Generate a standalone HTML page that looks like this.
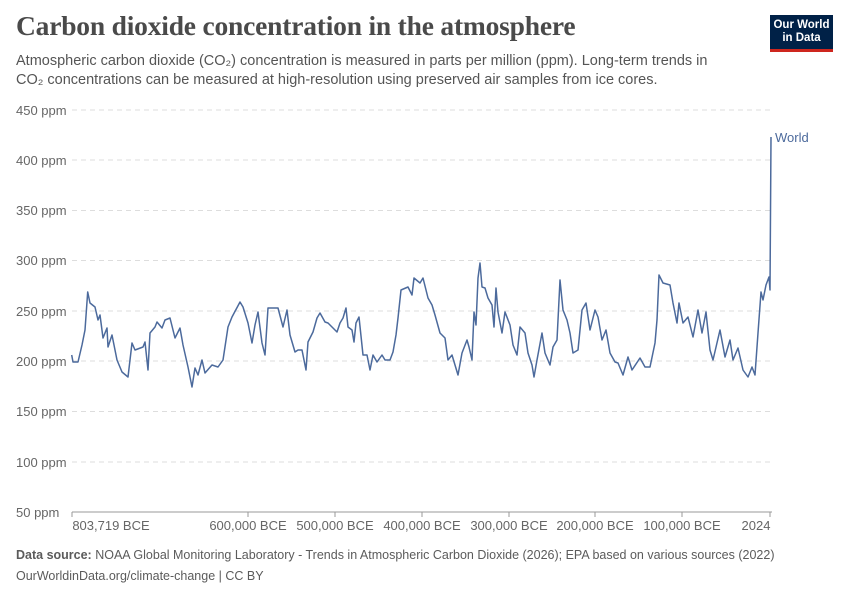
<!DOCTYPE html>
<html><head><meta charset="utf-8"><style>
body{margin:0;width:850px;height:600px;background:#fff;position:relative;overflow:hidden;font-family:"Liberation Sans",sans-serif;}
.t{position:absolute;left:16px;top:10px;font-family:"Liberation Serif",serif;font-size:27.5px;color:#4a4a4a;font-weight:bold;letter-spacing:-0.2px}
.s{position:absolute;left:16px;top:52px;font-size:14.5px;line-height:19px;color:#555;width:712px}
.logo{position:absolute;left:770px;top:15px;width:63px;height:37px;background:#002147;border-bottom:3px solid #ce261e;color:#fff;font-size:11.5px;line-height:13px;text-align:center;padding-top:4px;box-sizing:border-box;font-weight:bold}
.f{position:absolute;left:16px;font-size:12.5px;color:#5b5b5b}
</style></head><body>
<div class="t">Carbon dioxide concentration in the atmosphere</div>
<div class="s">Atmospheric carbon dioxide (CO₂) concentration is measured in parts per million (ppm). Long-term trends in CO₂ concentrations can be measured at high-resolution using preserved air samples from ice cores.</div>
<div class="logo">Our World<br>in Data</div>
<svg width="850" height="600" style="position:absolute;left:0;top:0" font-family="Liberation Sans, sans-serif">
<g stroke="#ddd" stroke-dasharray="5,4" stroke-width="1">
<line x1="72" x2="772" y1="110" y2="110"/><line x1="72" x2="772" y1="160" y2="160"/><line x1="72" x2="772" y1="210.5" y2="210.5"/><line x1="72" x2="772" y1="260.5" y2="260.5"/><line x1="72" x2="772" y1="311" y2="311"/><line x1="72" x2="772" y1="361" y2="361"/><line x1="72" x2="772" y1="411.5" y2="411.5"/><line x1="72" x2="772" y1="462" y2="462"/>
</g>
<line x1="72" x2="772" y1="512" y2="512" stroke="#999"/>
<g stroke="#999"><line x1="72" x2="72" y1="512" y2="517"/><line x1="248" x2="248" y1="512" y2="517"/><line x1="335" x2="335" y1="512" y2="517"/><line x1="422" x2="422" y1="512" y2="517"/><line x1="509" x2="509" y1="512" y2="517"/><line x1="595" x2="595" y1="512" y2="517"/><line x1="682" x2="682" y1="512" y2="517"/><line x1="770" x2="770" y1="512" y2="517"/></g>
<g fill="#666" font-size="13">
<text x="16" y="115">450 ppm</text><text x="16" y="165">400 ppm</text><text x="16" y="215">350 ppm</text><text x="16" y="265">300 ppm</text><text x="16" y="316">250 ppm</text><text x="16" y="366">200 ppm</text><text x="16" y="416">150 ppm</text><text x="16" y="467">100 ppm</text><text x="16" y="517">50 ppm</text>
<g text-anchor="middle"><text x="111" y="530">803,719 BCE</text><text x="248" y="530">600,000 BCE</text><text x="335" y="530">500,000 BCE</text><text x="422" y="530">400,000 BCE</text><text x="509" y="530">300,000 BCE</text><text x="595" y="530">200,000 BCE</text><text x="682" y="530">100,000 BCE</text><text x="756" y="530">2024</text></g>
</g>
<polyline fill="none" stroke="#4c6a9c" stroke-width="1.5" stroke-linejoin="round" points="71.7,355 73,362 78,362 82,345 85,330 87.7,292 90,303 95,307 98,320 100,315 103,338 107,328 108,347 112,335 117,360 122,372 128,377 132,343 135,350 143,347 145,342 148,370 150,333 155,327 157,322 162,328 165,320 170,318 175,338 180,328 183,345 188,367 192,387 195,368 198,375 202,360 205,373 212,365 218,367 223,360 228,327 232,317 240,302 243,307 248,323 252,343 255,325 258,312 262,343 265,355 268,308 278,308 283,327 287,310 290,335 295,352 298,350 302,350 306,370 308,342 313,332 317,318 320,313 325,322 328,323 337,332 340,323 343,318 346,308 348,327 352,330 354,342 356,323 359,317 363,355 367,355 370,370 373,355 377,362 382,355 385,360 390,360 393,352 396,335 398,318 401,290 408,287 412,295 414,278 420,283 423,278 428,298 432,305 435,315 440,333 445,338 448,360 452,355 455,365 458,375 462,353 467,340 469,347 472,360 474,312 476,325 478,278 480,263 482,287 485,288 488,298 492,305 494,327 496,288 498,312 502,333 505,312 510,325 513,345 517,355 520,327 525,333 528,353 532,365 534,377 537,360 542,333 545,353 550,365 553,347 557,340 560,280 563,310 567,320 570,333 573,353 578,350 582,310 586,303 590,330 595,310 598,317 602,340 606,330 610,353 615,362 618,363 623,375 628,357 632,370 640,358 645,367 650,367 655,343 657,320 659,275 663,283 670,285 673,303 677,323 679,303 683,323 688,317 693,337 698,310 702,333 706,312 710,350 713,360 720,330 725,357 730,340 733,360 738,348 743,370 748,377 752,367 755,375 758,333 761,292 763,300 766,285 769,277 770,290 771,137"/>
<text x="775" y="142" fill="#4c6a9c" font-size="13">World</text>
</svg>
<div class="f" style="top:548px"><b>Data source:</b> NOAA Global Monitoring Laboratory - Trends in Atmospheric Carbon Dioxide (2026); EPA based on various sources (2022)</div>
<div class="f" style="top:569px">OurWorldinData.org/climate-change | CC BY</div>
</body></html>
